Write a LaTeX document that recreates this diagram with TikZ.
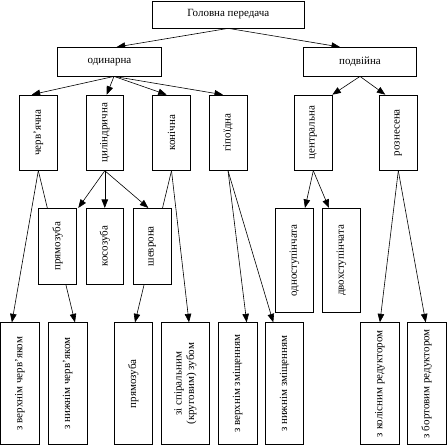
\documentclass[tikz,border=0pt]{standalone}
\usepackage{fontspec}
\setmainfont{Liberation Serif}
\usetikzlibrary{arrows.meta,calc}
\pgfdeclarelayer{bg}
\pgfsetlayers{bg,main}
\begin{document}
\begin{tikzpicture}[x=1pt,y=-1pt,
  box/.style={draw, line width=0.7pt, fill=white, inner sep=0pt, align=center,
    font=\fontsize{11}{12.5}\selectfont},
  vbox/.style={box, rotate=90},
  arr/.style={-{Triangle[length=8.5pt,width=6.5pt]}, line width=0.6pt}]
\useasboundingbox (0,0) rectangle (447,447);
% level 0-1
\node[box, minimum width=151.5pt, minimum height=27pt] (top) at (228.25,14.5) {Головна передача};
\node[box, minimum width=103.6pt, minimum height=28.7pt] (od) at (109.5,61.7) {одинарна};
\node[box, minimum width=113.4pt, minimum height=28.7pt] (pd) at (360,61.7) {подвійна};
% level 2 (rotated: width = vertical extent, height = horizontal extent)
\tikzset{l2/.style={vbox, minimum width=75.3pt, minimum height=38pt}}
\node[l2] (cher) at (38.3,132.7) {черв’ячна};
\node[l2, minimum height=37pt] (cyl) at (104.8,132.7) {циліндрична};
\node[l2] (kon) at (171.5,132.7) {конічна};
\node[l2] (hip) at (228,132.7) {гіпоїдна};
\node[l2] (cen) at (313.3,132.7) {центральна};
\node[l2] (roz) at (398.3,132.7) {рознесена};
% level 3
\tikzset{l3/.style={vbox, minimum width=76pt, minimum height=38pt}}
\node[l3] (pr1) at (57.5,246.3) {прямозуба};
\node[l3, minimum height=37pt] (kos) at (104.8,246.3) {косозуба};
\node[l3] (shev) at (152.3,246.3) {шеврона};
\node[l3, minimum width=104.2pt] (odn) at (294.5,260.4) {одноступінчата};
\node[l3, minimum width=104.2pt] (dvo) at (341.5,260.4) {двохступінчата};
% level 4
\tikzset{l4/.style={vbox, minimum width=122pt, minimum height=38.3pt}}
\node[l4] (b1) at (19.9,383.7) {з верхнім черв’яком};
\node[l4] (b2) at (67.7,383.7) {з нижнім черв’яком};
\node[l4] (b3) at (133.3,383.7) {прямозуба};
\node[l4, minimum height=48pt] (b4) at (185.3,383.7) {зі спіральним\\(круговим) зубом};
\node[l4] (b5) at (237.7,383.7) {з верхнім зміщенням};
\node[l4] (b6) at (284.5,383.7) {з нижнім зміщенням};
\node[l4] (b7) at (379.9,383.7) {з колісним редуктором};
\node[l4] (b8) at (426.7,383.7) {з бортовим редуктором};
% connectors (rotated boxes: .east = top side, .west = bottom side)
\begin{pgfonlayer}{bg}
\draw[arr] (top.south) -- ([xshift=7.2pt]od.north);
\draw[arr] (top.south) -- ([xshift=-20pt]pd.north);
\coordinate (ods) at ([xshift=4.5pt]od.south);
\draw[arr] (ods) -- ([xshift=-6.6pt]cher.east);
\draw[arr] (ods) -- ([xshift=1.9pt]cyl.east);
\draw[arr] (ods) -- ([xshift=-4.8pt]kon.east);
\draw[arr] (ods) -- ([xshift=-5pt]hip.east);
\draw[arr] (pd.south) -- ([xshift=19pt]cen.east);
\draw[arr] (pd.south) -- ([xshift=-13pt]roz.east);
\draw[arr] (cher.west) -- ([xshift=-8pt]b1.east);
\draw[arr] (cher.west) -- ([xshift=7.3pt]b2.east);
\draw[arr] (cyl.west) -- ([xshift=20.8pt]pr1.east);
\draw[arr] (cyl.west) -- (kos.east);
\draw[arr] (cyl.west) -- ([xshift=-4pt]shev.east);
\draw[arr] (kon.west) -- ([xshift=1.7pt]b3.east);
\draw[arr] (kon.west) -- ([xshift=3.7pt]b4.east);
\draw[arr] (hip.west) -- ([xshift=9pt]b5.east);
\draw[arr] (hip.west) -- ([xshift=-11.2pt]b6.east);
\draw[arr] (cen.west) -- ([xshift=10.5pt]odn.east);
\draw[arr] (cen.west) -- ([xshift=-12.5pt]dvo.east);
\draw[arr] (roz.west) -- (b7.east);
\draw[arr] (roz.west) -- ([xshift=-1pt]b8.east);
\end{pgfonlayer}
\end{tikzpicture}
\end{document}
